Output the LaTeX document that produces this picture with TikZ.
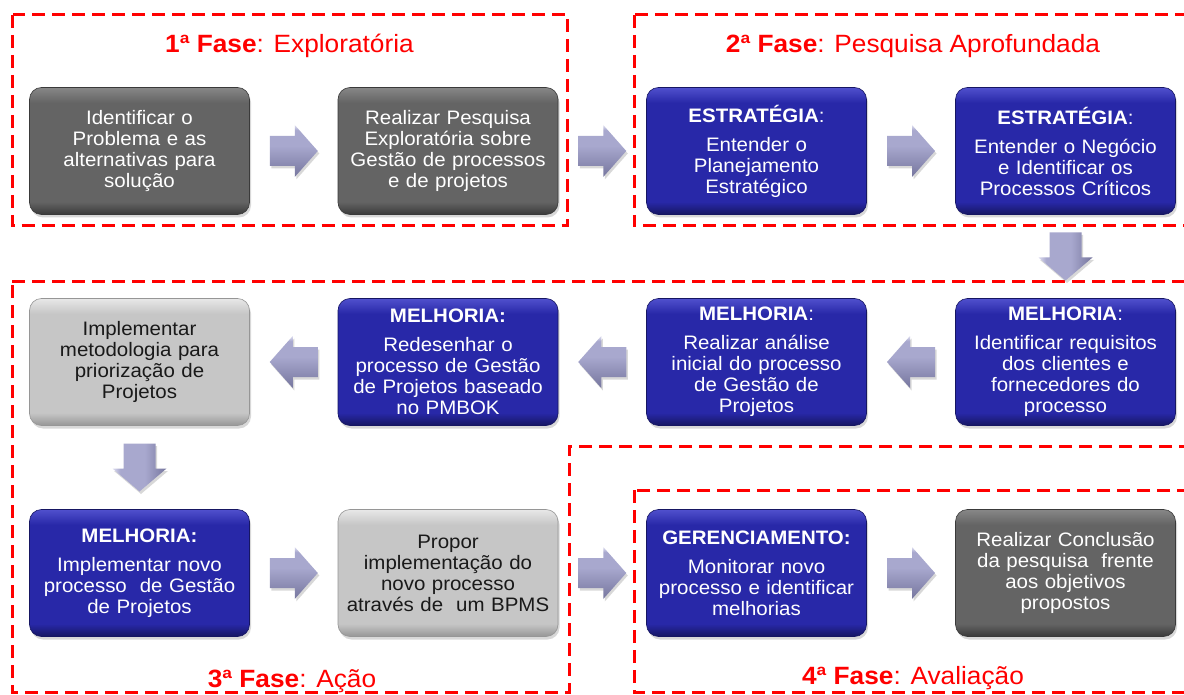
\documentclass[tikz,border=0pt]{standalone}
\usepackage{fontspec}
\setmainfont{Liberation Sans}[FakeStretch=1.05]
\usetikzlibrary{shadows,calc}

\definecolor{fred}{RGB}{255,0,0}
\definecolor{btop}{RGB}{80,80,205}
\definecolor{bmain}{RGB}{40,40,168}
\definecolor{bbot}{RGB}{22,22,98}
\definecolor{gtop}{RGB}{135,135,135}
\definecolor{gmain}{RGB}{100,100,100}
\definecolor{gbot}{RGB}{58,58,58}
\definecolor{ltop}{RGB}{232,232,232}
\definecolor{lmain}{RGB}{198,198,198}
\definecolor{lbot}{RGB}{150,150,150}
\definecolor{atop}{RGB}{222,222,240}
\definecolor{amid}{RGB}{168,168,206}
\definecolor{abot}{RGB}{118,118,158}

\pgfdeclareverticalshading{blueshade}{100bp}{color(0bp)=(bbot); color(25bp)=(bbot); color(30bp)=(bmain); color(69bp)=(bmain); color(75bp)=(btop); color(100bp)=(btop)}
\pgfdeclareverticalshading{grayshade}{100bp}{color(0bp)=(gbot); color(25bp)=(gbot); color(30bp)=(gmain); color(69bp)=(gmain); color(75bp)=(gtop); color(100bp)=(gtop)}
\pgfdeclareverticalshading{lightshade}{100bp}{color(0bp)=(lbot); color(25bp)=(lbot); color(30bp)=(lmain); color(69bp)=(lmain); color(75bp)=(ltop); color(100bp)=(ltop)}
\pgfdeclareverticalshading{arrowshade}{100bp}{color(0bp)=(abot); color(25bp)=(abot); color(55bp)=(amid); color(70bp)=(amid); color(75bp)=(atop); color(100bp)=(atop)}
\pgfdeclarehorizontalshading{varrowshade}{100bp}{color(0bp)=(atop); color(25bp)=(atop); color(32bp)=(amid); color(55bp)=(amid); color(75bp)=(abot); color(100bp)=(abot)}

\newcommand\myBody{\fontsize{19.5}{21}\selectfont}
\newcommand\myTitle{\fontsize{25}{28}\selectfont}

\tikzset{
  box/.style={rounded corners=12pt, minimum width=220pt, minimum height=127pt,
    align=center, text width=216pt, font=\myBody, inner sep=0pt,
    drop shadow={shadow xshift=1.5pt, shadow yshift=-3pt, opacity=0.3}},
  bluebox/.style={box, shading=blueshade, draw=bbot, line width=0.6pt, text=white},
  graybox/.style={box, shading=grayshade, draw=gbot, line width=0.6pt, text=white},
  lightbox/.style={box, shading=lightshade, draw=lbot, line width=0.6pt, text=black!90},
  frame/.style={draw=fred, line width=3pt, dash pattern=on 13pt off 7pt},
  title/.style={text=fred, font=\myTitle, inner sep=0pt, anchor=base},
  harrow/.pic={\path[shading=arrowshade, drop shadow={shadow xshift=1.5pt, shadow yshift=-2.5pt, opacity=0.3}]
    (-24,-15) -- (1,-15) -- (1,-26) -- (24,0) -- (1,26) -- (1,15) -- (-24,15) -- cycle;},
  varrow/.pic={\path[shading=varrowshade, drop shadow={shadow xshift=1.5pt, shadow yshift=-2.5pt, opacity=0.3}]
    (-16,-24) -- (-16,1) -- (-27,1) -- (0,24) -- (27,1) -- (16,1) -- (16,-24) -- cycle;}
}

\begin{document}
\begin{tikzpicture}[x=1pt, y=-1pt]
\useasboundingbox (0,0) rectangle (1184,695);
\fill[white] (0,0) rectangle (1184,695);
\clip (0,0) rectangle (1184,695);

% dashed phase frames
\draw[frame] (12.5,15) rectangle (567.5,226);
\draw[frame] (634,15) rectangle (1190,226);
\draw[frame] (12,282) -- (1190,282) -- (1190,446) -- (569,446) -- (569,692) -- (12,692) -- cycle;
\draw[frame] (634,490) rectangle (1190,692);

% titles
\node[title] (t1) at (289.5,53) {\textbf{1ª Fase}: Exploratória};
\node[title] (t2) at (913,53) {\textbf{2ª Fase}: Pesquisa Aprofundada};
\node[title] (t3) at (292,687) {\textbf{3ª Fase}: Ação};
\node[title] (t4) at (913,684) {\textbf{4ª Fase}: Avaliação};

% row 1
\node[graybox] (a1) at (139.5,151) {Identificar o\\Problema e as\\alternativas para\\solução};
\node[graybox] (a2) at (448,151) {Realizar Pesquisa\\Exploratória sobre\\Gestão de processos\\e de projetos};
\node[bluebox] (b1) at (756.5,151) {\textbf{ESTRATÉGIA}:\\[8pt]Entender o\\Planejamento\\Estratégico};
\node[bluebox] (b2) at (1065.5,151) {\textbf{ESTRATÉGIA}:\\[8pt]Entender o Negócio\\e Identificar os\\Processos Críticos};

% row 2
\node[bluebox] (c1) at (1065.5,362) {\textbf{MELHORIA}:\\[8pt]Identificar requisitos\\dos clientes e\\fornecedores do\\processo};
\node[bluebox] (c2) at (756.5,362) {\textbf{MELHORIA}:\\[8pt]Realizar análise\\inicial do processo\\de Gestão de\\Projetos};
\node[bluebox] (c3) at (448,362) {\textbf{MELHORIA:}\\[8pt]Redesenhar o\\processo de Gestão\\de Projetos baseado\\no PMBOK};
\node[lightbox] (c4) at (139.5,362) {Implementar\\metodologia para\\priorização de\\Projetos};

% row 3
\node[bluebox] (d1) at (139.5,573) {\textbf{MELHORIA:}\\[8pt]Implementar novo\\processo\ \ de Gestão\\de Projetos};
\node[lightbox] (d2) at (448,573) {Propor\\implementação do\\novo processo\\através de\ \ um BPMS};
\node[bluebox] (g1) at (756.5,573) {\textbf{GERENCIAMENTO:}\\[8pt]Monitorar novo\\processo e identificar\\melhorias};
\node[graybox] (g2) at (1065.5,573) {Realizar Conclusão\\da pesquisa\ \ frente\\aos objetivos\\propostos};

% block-arrow connectors
\pic at ($(a1.east)!0.5!(a2.west)$) {harrow};
\pic at ($(a2.east)!0.5!(b1.west)$) {harrow};
\pic at ($(b1.east)!0.5!(b2.west)$) {harrow};
\pic at ($(b2.south)!0.5!(c1.north)$) {varrow};
\pic[xscale=-1] at ($(c1.west)!0.5!(c2.east)$) {harrow};
\pic[xscale=-1] at ($(c2.west)!0.5!(c3.east)$) {harrow};
\pic[xscale=-1] at ($(c3.west)!0.5!(c4.east)$) {harrow};
\pic at ($(c4.south)!0.5!(d1.north)$) {varrow};
\pic at ($(d1.east)!0.5!(d2.west)$) {harrow};
\pic at ($(d2.east)!0.5!(g1.west)$) {harrow};
\pic at ($(g1.east)!0.5!(g2.west)$) {harrow};
\end{tikzpicture}
\end{document}
